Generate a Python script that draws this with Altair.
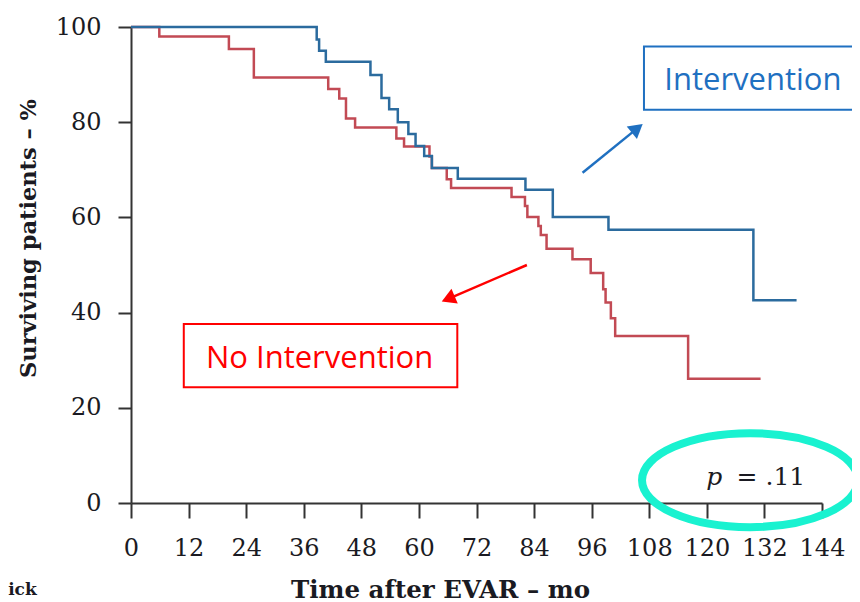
import altair as alt
import pandas as pd

# Kaplan-Meier curves (time in months, % surviving)
blue_t = [0, 38.7, 39.2, 40.6, 49.9, 52.2, 53.8, 55.6, 57.8, 59.3, 61.1, 62.7, 68.1, 82.2, 87.9, 99.5, 129.7, 138.7]
blue_s = [100, 97.4, 95.0, 92.7, 89.9, 85.1, 82.7, 80.0, 77.5, 75.0, 72.9, 70.4, 68.1, 65.8, 60.1, 57.4, 42.6, 42.6]
red_t = [0, 5.9, 20.4, 25.6, 41.1, 43.4, 44.8, 46.7, 55.3, 56.9, 62.2, 62.7, 65.8, 66.7, 79.3, 82.1, 82.6,
         84.9, 85.4, 86.6, 92.0, 95.8, 98.4, 98.9, 100.0, 100.9, 116.1, 131.2]
red_s = [100, 98.0, 95.4, 89.4, 87.0, 85.0, 80.8, 78.9, 76.6, 74.9, 72.8, 70.4, 68.0, 66.2, 64.3, 62.4, 60.1,
         58.2, 56.3, 53.4, 51.2, 48.3, 44.9, 42.1, 38.8, 35.1, 26.1, 26.1]

x_ticks = [0, 12, 24, 36, 48, 60, 72, 84, 96, 108, 120, 132, 144]
y_ticks = [0, 20, 40, 60, 80, 100]

BLUE = "#2b6b9e"
RED = "#c24a54"
SERIF = "DejaVu Serif"
DARK = "#1a1a22"

XS = alt.Scale(domain=[0, 144], nice=False, zero=False)
YS = alt.Scale(domain=[0, 100], nice=False, zero=False)

x_axis = alt.Axis(values=x_ticks, title="Time after EVAR – mo", grid=False,
                  tickSize=15, tickWidth=2, tickColor="#333", domainColor="#333", domainWidth=2,
                  labelFont=SERIF, labelFontSize=24, labelColor=DARK, labelPadding=18,
                  labelFlush=False, labelOverlap=False,
                  titleFont=SERIF, titleFontWeight="bold", titleFontSize=24.5, titleColor=DARK,
                  titleX=309, titleY=87, titleBaseline="middle", titleAlign="center")
y_axis = alt.Axis(values=y_ticks, title="Surviving patients – %", grid=False,
                  tickSize=13, tickWidth=2, tickColor="#333", domainColor="#333", domainWidth=2,
                  labelFont=SERIF, labelFontSize=24, labelColor=DARK, labelPadding=17,
                  labelFlush=False, labelOverlap=False,
                  titleFont=SERIF, titleFontWeight="bold", titleFontSize=22.5, titleColor=DARK,
                  titleX=-103, titleY=211, titleBaseline="middle", titleAlign="center", titleAngle=-90)


def X(f):
    return alt.X(f, type="quantitative", scale=XS, axis=x_axis)


def Y(f):
    return alt.Y(f, type="quantitative", scale=YS, axis=y_axis)


red_df = pd.DataFrame({"t": red_t, "s": red_s})
blue_df = pd.DataFrame({"t": blue_t, "s": blue_s})

red_line = alt.Chart(red_df).mark_line(interpolate="step-after", strokeWidth=2.5, color=RED).encode(
    x=X("t"), y=Y("s"))
blue_line = alt.Chart(blue_df).mark_line(interpolate="step-after", strokeWidth=2.5, color=BLUE).encode(
    x=X("t"), y=Y("s"))

# annotations (in data coordinates)
ann = {
    "box_int": dict(x=106.9, x2=156, y=95.9, y2=82.6),
    "box_no": dict(x=11.0, x2=68.0, y=37.6, y2=24.3),
    "txt_int": dict(x=129.6, y=86.8, text="Intervention"),
    "txt_no": dict(x=39.3, y=28.3, text="No Intervention"),
    "arr_int": dict(x=94.1, y=69.4, x2=105.5, y2=78.7, hx=105.5, hy=78.7, angle=50.8),
    "arr_no": dict(x=82.5, y=50.0, x2=66.1, y2=42.9, hx=66.1, hy=42.9, angle=247),
    "ellipse": dict(x=129.0, y=4.8),
    "p": dict(x=119.9, y=3.8),
    "pval": dict(x=126.2, y=3.8),
    "risk": dict(x=-25.6, y=-19.3),
}


def one(d):
    return alt.Chart(pd.DataFrame([d]))


layers = [red_line, blue_line]

for key, col in (("box_int", "#1f70c1"), ("box_no", "#ff0000")):
    layers.append(one(ann[key]).mark_rect(fill="white", stroke=col, strokeWidth=2).encode(
        x=X("x"), x2="x2", y=Y("y"), y2="y2"))

layers.append(one(ann["txt_int"]).mark_text(font="Open Sans", fontSize=31, color="#1f70c1",
                                             align="center", baseline="alphabetic").encode(
    x=X("x"), y=Y("y"), text="text:N"))
layers.append(one(ann["txt_no"]).mark_text(font="Open Sans", fontSize=31, color="#ff0000",
                                            align="center", baseline="alphabetic").encode(
    x=X("x"), y=Y("y"), text="text:N"))

for key, col in (("arr_int", "#1f70c1"), ("arr_no", "#ff0000")):
    d = ann[key]
    layers.append(one(d).mark_rule(strokeWidth=2.5, color=col).encode(
        x=X("x"), y=Y("y"), x2="x2", y2="y2"))
    layers.append(one(d).mark_point(shape="triangle-up", filled=True, size=260, opacity=1,
                                    color=col, angle=d["angle"]).encode(x=X("hx"), y=Y("hy")))

layers.append(one(ann["ellipse"]).mark_point(
    shape="M-1,0C-1,-0.24,-0.552,-0.435,0,-0.435C0.552,-0.435,1,-0.24,1,0C1,0.24,0.552,0.435,0,0.435C-0.552,0.435,-1,0.24,-1,0Z",
    size=46656, filled=False, color="#19f2d0", strokeWidth=8, opacity=1).encode(x=X("x"), y=Y("y")))

layers.append(one(ann["p"]).mark_text(text="p", font=SERIF, fontStyle="italic", fontSize=25,
                                       color=DARK, align="left", baseline="alphabetic").encode(
    x=X("x"), y=Y("y")))
layers.append(one(ann["pval"]).mark_text(text="= .11", font=SERIF, fontSize=25,
                                          color=DARK, align="left", baseline="alphabetic").encode(
    x=X("x"), y=Y("y")))
layers.append(one(ann["risk"]).mark_text(text="ick", font=SERIF, fontWeight="bold", fontSize=17,
                                          color=DARK, align="left", baseline="alphabetic").encode(
    x=X("x"), y=Y("y")))

chart = alt.layer(*layers).properties(
    width=691, height=476,
    autosize=alt.AutoSizeParams(type="none"),
    padding={"left": 123, "top": 19, "right": 30, "bottom": 99},
).configure_view(stroke=None)

chart.save("out.html", embed_options={"renderer": "svg", "actions": False})
